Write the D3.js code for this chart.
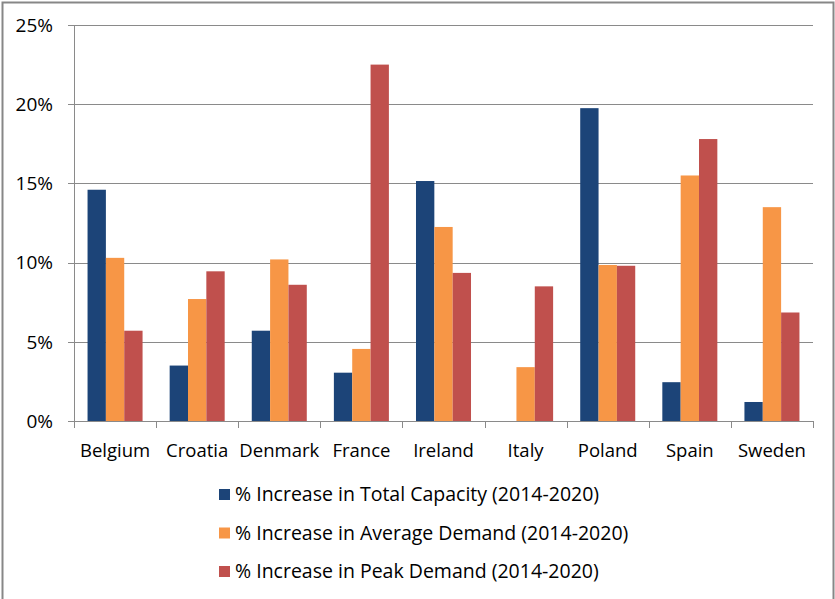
<!DOCTYPE html>
<html>
<head>
<meta charset="utf-8">
<script src="https://cdn.jsdelivr.net/npm/d3@7/dist/d3.min.js"></script>
<style>
  body { margin: 0; background: #fff; }
  text { font-family: "Open Sans", "Noto Sans", sans-serif; fill: #000; }
</style>
</head>
<body>
<div id="chart"></div>
<script>
var countries = ['Belgium', 'Croatia', 'Denmark', 'France', 'Ireland', 'Italy', 'Poland', 'Spain', 'Sweden'];
var seriesNames = [
    '% Increase in Total Capacity (2014-2020)',
    '% Increase in Average Demand (2014-2020)',
    '% Increase in Peak Demand (2014-2020)'
];
var totalCapacity = [14.6, 3.5, 5.7, 3.05, 15.15, 0, 19.75, 2.45, 1.2];
var averageDemand = [10.3, 7.7, 10.2, 4.55, 12.25, 3.4, 9.85, 15.5, 13.5];
var peakDemand = [5.7, 9.45, 8.6, 22.5, 9.35, 8.5, 9.8, 17.8, 6.85];
var yTicks = [0, 5, 10, 15, 20, 25];

var seriesValues = [totalCapacity, averageDemand, peakDemand];
var colors = ['#1c4478', '#f79646', '#c0504d'];

var width = 835;
var height = 599;
var plotLeft = 74, plotRight = 813, plotTop = 25, plotBottom = 421;

var svg = d3.select('#chart')
    .append('svg')
    .attr('width', width)
    .attr('height', height);

// outer frame
svg.append('rect')
    .attr('x', 2.5).attr('y', 2.5)
    .attr('width', 831).attr('height', 620)
    .attr('fill', 'none')
    .attr('stroke', '#878787')
    .attr('stroke-width', 2);

var x0 = d3.scaleBand()
    .domain(countries)
    .range([plotLeft, plotRight])
    .paddingInner(0.33)
    .paddingOuter(0.165);

var x1 = d3.scaleBand()
    .domain(d3.range(seriesNames.length))
    .range([0, x0.bandwidth()]);

var y = d3.scaleLinear()
    .domain([0, 25])
    .range([plotBottom, plotTop]);

// gridlines
svg.selectAll('.grid')
    .data(yTicks)
    .enter()
    .append('line')
    .attr('x1', plotLeft - 6)
    .attr('x2', plotRight)
    .attr('y1', function (d) {return Math.round(y(d)) + 0.5;})
    .attr('y2', function (d) {return Math.round(y(d)) + 0.5;})
    .attr('stroke', '#8a8a8a')
    .attr('stroke-width', 1);

// y axis line
svg.append('line')
    .attr('x1', plotLeft + 0.5).attr('x2', plotLeft + 0.5)
    .attr('y1', plotTop).attr('y2', plotBottom)
    .attr('stroke', '#8a8a8a');

// y labels
svg.selectAll('.ylab')
    .data(yTicks)
    .enter()
    .append('text')
    .attr('x', 53)
    .attr('y', function (d) {return y(d);})
    .attr('dy', '0.36em')
    .attr('text-anchor', 'end')
    .style('font-size', '19px')
    .text(function (d) {return d + '%';});

// bars
var groups = svg.selectAll('.group')
    .data(countries)
    .enter()
    .append('g')
    .attr('transform', function (d) {return 'translate(' + x0(d) + ',0)';});

groups.selectAll('rect')
    .data(function (d, i) {
        return seriesValues.map(function (s, k) {return {k: k, v: s[i]};});
    })
    .enter()
    .append('rect')
    .attr('x', function (d) {return x1(d.k);})
    .attr('width', x1.bandwidth())
    .attr('y', function (d) {return y(d.v);})
    .attr('height', function (d) {return y(0) - y(d.v);})
    .attr('fill', function (d) {return colors[d.k];});

// x axis ticks at category boundaries
var step = x0.step();
var bounds = d3.range(countries.length + 1).map(function (i) {return plotLeft + i * step;});
svg.selectAll('.xtick')
    .data(bounds)
    .enter()
    .append('line')
    .attr('x1', function (d) {return Math.round(d) + 0.5;})
    .attr('x2', function (d) {return Math.round(d) + 0.5;})
    .attr('y1', plotBottom)
    .attr('y2', plotBottom + 7)
    .attr('stroke', '#8a8a8a');

// x labels
svg.selectAll('.xlab')
    .data(countries)
    .enter()
    .append('text')
    .attr('x', function (d) {return x0(d) + x0.bandwidth() / 2;})
    .attr('y', 450)
    .attr('dy', '0.36em')
    .attr('text-anchor', 'middle')
    .style('font-size', '18.5px')
    .text(function (d) {return d;});

// legend
var legend = svg.selectAll('.legend')
    .data(seriesNames)
    .enter()
    .append('g')
    .attr('transform', function (d, i) {return 'translate(219,' + (494 + i * 38.5) + ')';});

legend.append('rect')
    .attr('x', 0)
    .attr('y', -5)
    .attr('width', 11)
    .attr('height', 11)
    .attr('fill', function (d, i) {return colors[i];});

legend.append('text')
    .attr('x', 16)
    .attr('y', 0)
    .attr('dy', '0.36em')
    .style('font-size', '19.5px')
    .text(function (d) {return d;});
</script>
</body>
</html>
